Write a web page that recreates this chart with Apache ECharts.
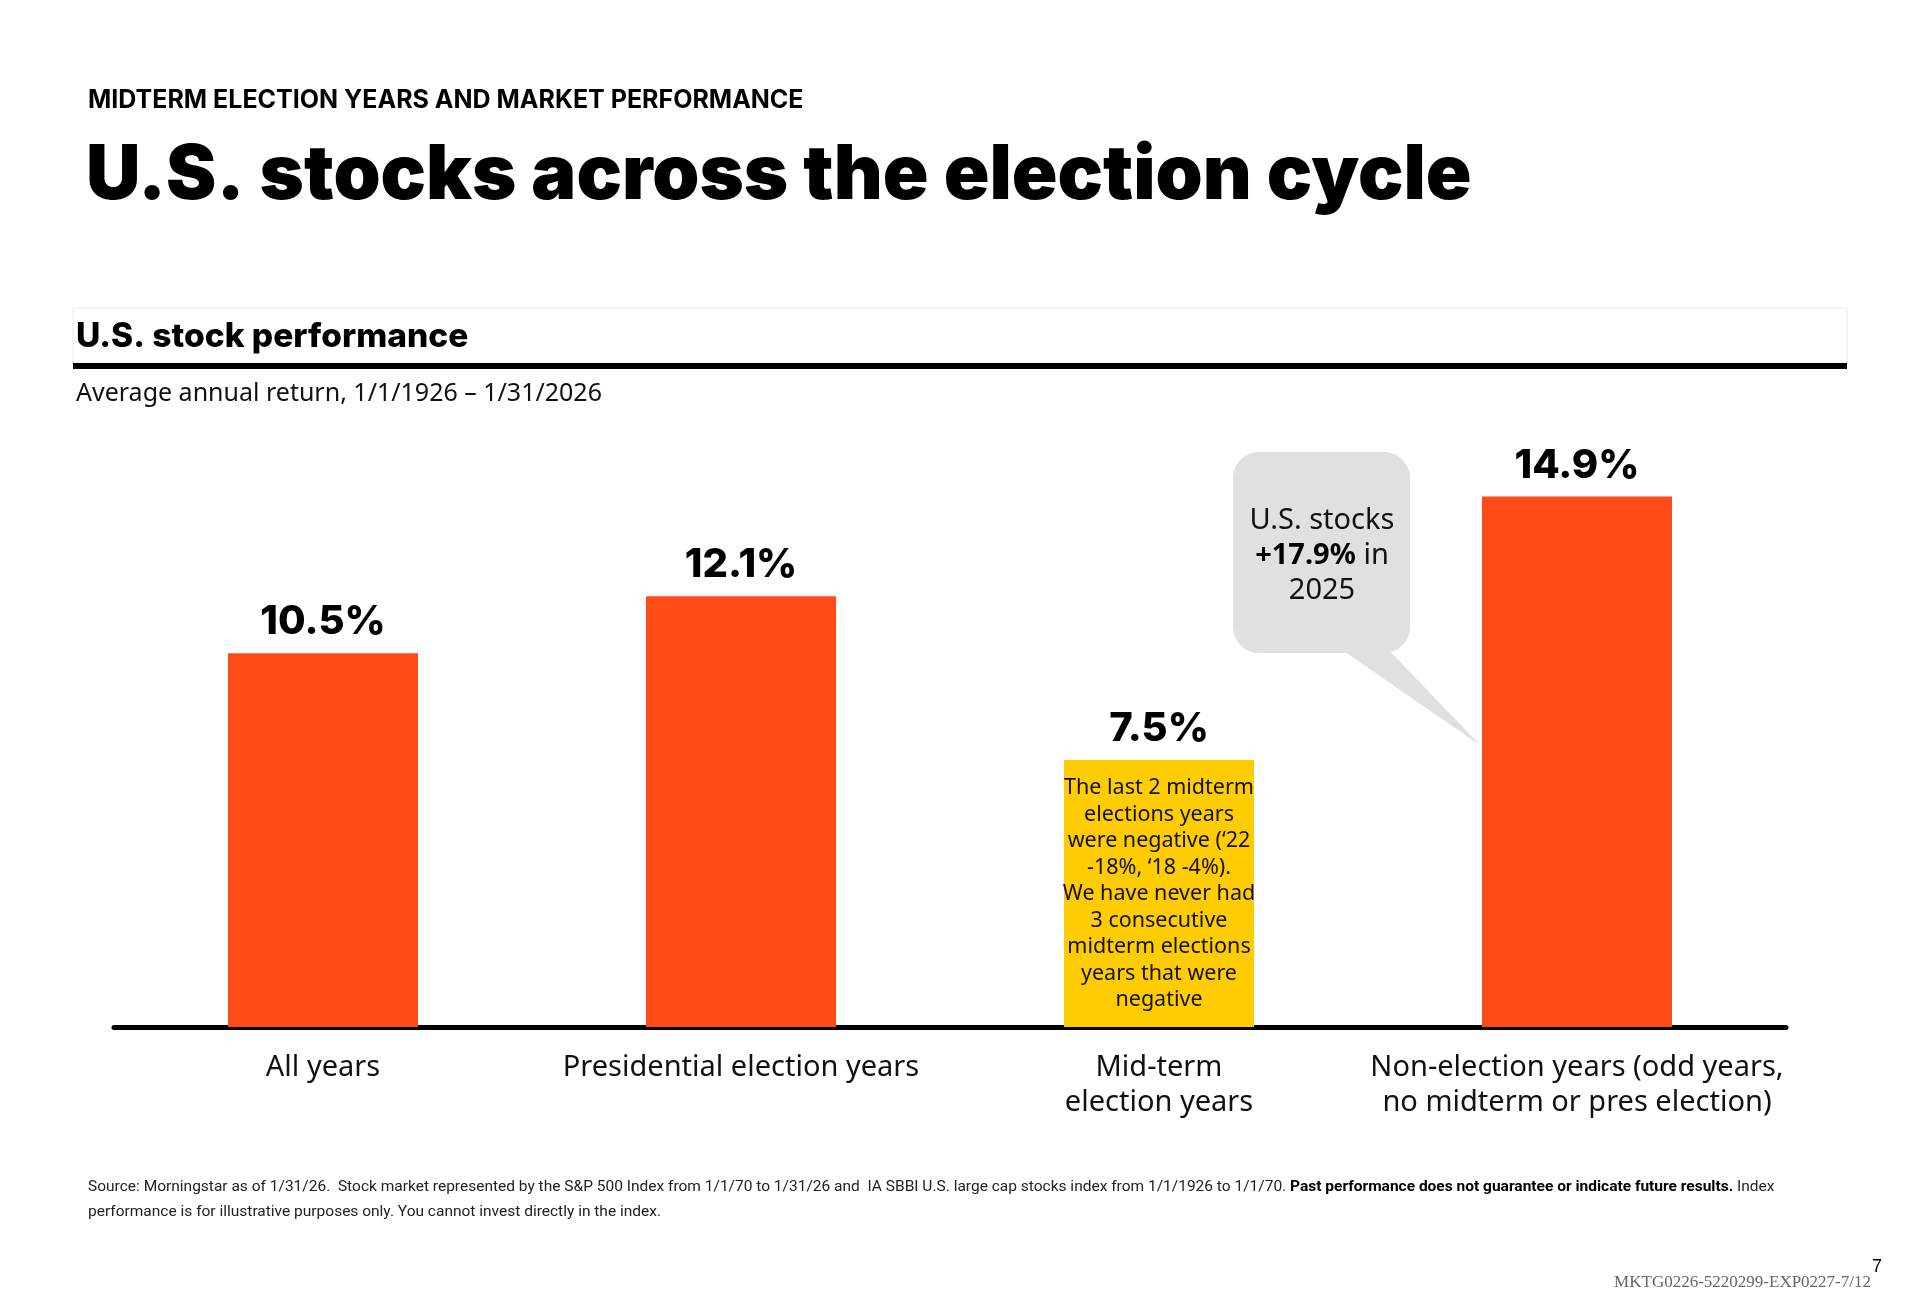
<!DOCTYPE html>
<html>
<head>
<meta charset="utf-8">
<script src="https://cdn.jsdelivr.net/npm/echarts@6/dist/echarts.min.js"></script>
<style>
  html, body { margin: 0; padding: 0; background: #fff; }
  #main { width: 1920px; height: 1309px; }
</style>
</head>
<body>
<div id="main"></div>
<script>
// chart data
var categories = [
    'All years',
    'Presidential election years',
    'Mid-term\nelection years',
    'Non-election years (odd years,\nno midterm or pres election)'
];
var avgReturns = [10.5, 12.1, 7.5, 14.9];
var barColors = ['#FF4B17', '#FF4B17', '#FFCC00', '#FF4B17'];
var midtermNote = [
    'The last 2 midterm',
    'elections years',
    'were negative (‘22',
    '-18%, ‘18 -4%).',
    'We have never had',
    '3 consecutive',
    'midterm elections',
    'years that were',
    'negative'
];
var noteIndex = 2;

var bodyFont = "'Noto Sans', 'Open Sans', sans-serif";
var heavyFont = "Inter, 'Noto Sans', sans-serif";
var footFont = "Roboto, 'Noto Sans', sans-serif";

var dom = document.getElementById('main');
var myChart = echarts.init(dom);

var mainData = avgReturns.map(function (v, i) {
    return { value: v, itemStyle: { color: barColors[i] } };
});
var noteData = avgReturns.map(function (v, i) {
    return i === noteIndex ? v : '-';
});

myChart.setOption({
    animation: false,
    grid: { left: 114, width: 1672, top: 315, height: 712 },
    xAxis: {
        type: 'category',
        data: categories,
        axisTick: { show: false },
        axisLine: { lineStyle: { color: '#000', width: 5 } },
        axisLabel: {
            interval: 0,
            margin: 23,
            fontFamily: bodyFont,
            fontSize: 29,
            lineHeight: 35,
            color: '#111'
        }
    },
    yAxis: {
        type: 'value',
        min: 0,
        max: 20,
        show: false,
        splitLine: { show: false }
    },
    series: [{
        name: 'Average annual return',
        type: 'bar',
        barWidth: 190,
        data: mainData,
        label: {
            show: true,
            position: 'top',
            distance: 11,
            formatter: '{c}%',
            fontFamily: heavyFont,
            fontWeight: 800,
            fontSize: 40,
            color: '#000'
        }
    }, {
        name: 'note',
        type: 'bar',
        barWidth: 190,
        barGap: '-100%',
        silent: true,
        z: 3,
        data: noteData,
        itemStyle: { color: 'rgba(0,0,0,0)' },
        label: {
            show: true,
            position: 'insideTop',
            distance: 15,
            formatter: midtermNote.join('\n'),
            fontFamily: bodyFont,
            fontSize: 21.5,
            lineHeight: 26.5,
            color: '#111'
        }
    }],
    graphic: [
        {
            type: 'text',
            style: {
                x: 88, y: 100, verticalAlign: 'middle',
                text: 'MIDTERM ELECTION YEARS AND MARKET PERFORMANCE',
                fontFamily: heavyFont, fontWeight: 'bold', fontSize: 25, fill: '#000'
            }
        },
        {
            type: 'text',
            style: {
                x: 86, y: 176, verticalAlign: 'middle',
                text: 'U.S. stocks across the election cycle',
                fontFamily: heavyFont, fontWeight: 900, fontSize: 75.5, fill: '#000'
            }
        },
        {
            type: 'rect',
            shape: { x: 73, y: 308, width: 1774, height: 58 },
            style: { fill: 'none', stroke: '#ececec', lineWidth: 1 }
        },
        {
            type: 'rect',
            shape: { x: 73, y: 363, width: 1774, height: 6 },
            style: { fill: '#000' }
        },
        {
            type: 'text',
            style: {
                x: 76, y: 337, verticalAlign: 'middle',
                text: 'U.S. stock performance',
                fontFamily: heavyFont, fontWeight: 800, fontSize: 33.5, fill: '#000'
            }
        },
        {
            type: 'text',
            style: {
                x: 76, y: 394, verticalAlign: 'middle',
                text: 'Average annual return, 1/1/1926 – 1/31/2026',
                fontFamily: bodyFont, fontSize: 25, fill: '#111'
            }
        },
        // callout bubble for 2025
        {
            type: 'rect',
            shape: { x: 1233, y: 452, width: 177, height: 201, r: 26 },
            style: { fill: '#E0E0E0' }
        },
        {
            type: 'polygon',
            shape: { points: [[1335, 645], [1384, 645], [1481, 746]] },
            style: { fill: '#E0E0E0' }
        },
        {
            type: 'text',
            style: {
                x: 1322, y: 556, align: 'center', verticalAlign: 'middle',
                text: '{n|U.S. stocks}\n{b|+17.9%}{n| in}\n{n|2025}',
                rich: {
                    n: { fontFamily: bodyFont, fontSize: 29, lineHeight: 35, fill: '#111' },
                    b: { fontFamily: bodyFont, fontSize: 29, lineHeight: 35, fontWeight: 'bold', fill: '#000' }
                }
            }
        },
        // footer
        {
            type: 'text',
            style: {
                x: 88, y: 1175,
                text: '{n|Source: Morningstar as of 1/31/26.  Stock market represented by the S&P 500 Index from 1/1/70 to 1/31/26 and  IA SBBI U.S. large cap stocks index from 1/1/1926 to 1/1/70. }{b|Past performance does not guarantee or indicate future results.}{n| Index}\n{n|performance is for illustrative purposes only. You cannot invest directly in the index.}',
                rich: {
                    n: { fontFamily: footFont, fontSize: 15.5, lineHeight: 25, fill: '#222' },
                    b: { fontFamily: footFont, fontSize: 15.5, lineHeight: 25, fontWeight: 'bold', fill: '#000' }
                }
            }
        },
        {
            type: 'text',
            style: {
                x: 1882, y: 1267, align: 'right', verticalAlign: 'middle',
                text: '7', fontFamily: 'Liberation Sans, sans-serif', fontSize: 18, fill: '#000'
            }
        },
        {
            type: 'text',
            style: {
                x: 1871, y: 1283, align: 'right', verticalAlign: 'middle',
                text: 'MKTG0226-5220299-EXP0227-7/12',
                fontFamily: "'Liberation Serif', serif", fontSize: 17, fill: '#666'
            }
        }
    ]
});

window.onresize = function () {
    myChart.resize();
};
</script>
</body>
</html>
